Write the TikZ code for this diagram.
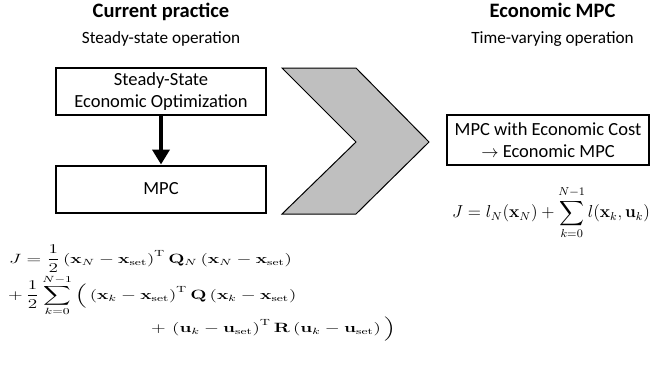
\documentclass[tikz,border=0pt]{standalone}
\usepackage{amsmath}
\usepackage{graphicx}
\usepackage[no-math]{fontspec}
\setmainfont{Carlito}
\usetikzlibrary{arrows.meta}

\begin{document}
\begin{tikzpicture}[x=1pt,y=-1pt,
  title/.style = {font=\fontsize{20.5}{24}\selectfont\bfseries, anchor=base},
  subtitle/.style = {font=\fontsize{17.2}{20}\selectfont, anchor=base},
  box/.style = {draw, line width=2pt, minimum width=210pt, minimum height=47pt, inner sep=0pt, align=center, font=\fontsize{18.5}{22}\selectfont},
  eqn/.style = {font=\fontsize{12}{14.4}\selectfont, inner sep=0pt},
  eqline/.style = {eqn, anchor=base west}]
\useasboundingbox (0,0) rectangle (654,365);
% headings
\node[title] (t1) at (161,17.5) {Current practice};
\node[subtitle] (s1) at (161,43) {Steady-state operation};
\node[title] (t2) at (552.5,17.5) {Economic MPC};
\node[subtitle] (s2) at (552.5,43) {Time-varying operation};
% current practice
\node[box] (1) at (161,91.5) {Steady-State\\Economic Optimization};
\node[box] (2) at (161,189) {MPC};
\draw[line width=4pt, -{Triangle[length=15pt,width=17pt]}] (1) -- (2);
% big chevron
\draw[fill=gray!50, line width=1pt, line join=miter]
  (282,68) -- (356,68) -- (429,142) -- (356,214) -- (282,214) -- (356,142) -- cycle;
% economic MPC
\node[box, minimum width=202pt, minimum height=50pt] (3) at (548,140) {MPC with Economic Cost\\$\rightarrow$ Economic MPC};
% cost functions
\node[eqline] (4) at (9,263) {\scalebox{1.6}[1.12]{$\displaystyle J = \frac{1}{2}\left(\mathbf{x}_N-\mathbf{x}_{\mathrm{set}}\right)^{\mathrm{T}}\mathbf{Q}_N\left(\mathbf{x}_N-\mathbf{x}_{\mathrm{set}}\right)$}};
\node[eqline] (5) at (8,299) {\scalebox{1.6}[1.12]{$\displaystyle +\,\frac{1}{2}\sum_{k=0}^{N-1}\Big(\left(\mathbf{x}_k-\mathbf{x}_{\mathrm{set}}\right)^{\mathrm{T}}\mathbf{Q}\left(\mathbf{x}_k-\mathbf{x}_{\mathrm{set}}\right)$}};
\node[eqline] (6) at (151,332) {\scalebox{1.6}[1.12]{$\displaystyle +\,\left(\mathbf{u}_k-\mathbf{u}_{\mathrm{set}}\right)^{\mathrm{T}}\mathbf{R}\left(\mathbf{u}_k-\mathbf{u}_{\mathrm{set}}\right)\Big)$}};
\node[eqn] (7) at (551,213) {\scalebox{1.44}{$\displaystyle J = l_N(\mathbf{x}_N)+\sum_{k=0}^{N-1} l(\mathbf{x}_k,\mathbf{u}_k)$}};
\end{tikzpicture}
\end{document}
